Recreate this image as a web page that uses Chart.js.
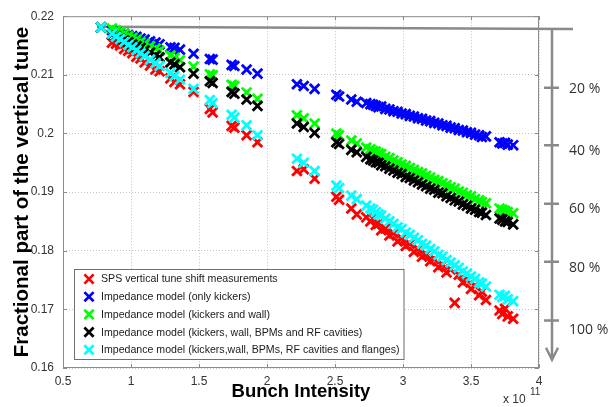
<!DOCTYPE html>
<html><head><meta charset="utf-8">
<script src="https://cdn.jsdelivr.net/npm/chart.js@4.4.1/dist/chart.umd.min.js"></script>
<style>html,body{margin:0;padding:0;background:#fff;overflow:hidden}</style>
</head><body>
<canvas id="c" width="611" height="407"></canvas>
<script>
// ---------- data ----------
const intensity = [0.78,
  0.86,0.89,0.92,0.95,0.98,1.01,1.04,1.07,1.10,1.14,1.18,1.21,
  1.29,1.32,1.36,
  1.46,1.58,1.60,1.74,1.76,1.85,1.93,
  2.22,2.27,2.35,
  2.51,2.53,2.62,2.66,2.73,2.76,2.78,2.80,2.82,2.84,
  2.87,2.90,2.93,2.96,2.99,3.02,3.05,3.08,3.11,3.14,
  3.17,3.20,3.23,3.26,3.29,3.32,3.35,3.38,3.41,3.44,
  3.47,3.50,3.53,3.56,3.58,3.61,
  3.71,3.73,3.75,3.77,3.81];
const measured = [null,
  0.2155,0.2153,0.2150,0.2144,0.2141,0.2137,0.2131,0.2128,0.2121,0.2116,0.2109,0.2106,
  0.2094,0.2088,0.2084,
  0.2071,0.2042,0.2036,0.2013,0.2010,0.1997,0.1985,
  0.1936,0.1939,0.1923,
  0.1892,0.1887,0.1872,0.1862,0.1857,0.1850,0.1855,0.1844,0.1846,0.1835,
  0.1838,0.1826,0.1830,0.1816,0.1821,0.1808,0.1812,0.1798,0.1803,0.1790,
  0.1794,0.1782,0.1786,0.1772,0.1776,0.1763,0.1768,0.1711,0.1759,0.1746,
  0.1750,0.1735,0.1740,0.1724,0.1730,0.1716,
  0.1698,0.1692,0.1701,0.1688,0.1684];
const kickersOnly = [0.2181,
  0.2176,0.2174,0.2172,0.2170,0.2168,0.2166,0.2165,0.2162,0.2160,0.2157,0.2155,0.2152,
  0.2147,0.2146,0.2143,
  0.2136,0.2127,0.2126,0.2117,0.2115,0.2109,0.2102,
  0.2084,0.2081,0.2076,
  0.2066,0.2063,0.2058,0.2054,0.2052,0.2050,0.2049,0.2047,0.2045,0.2046,
  0.2042,0.2041,0.2038,0.2037,0.2034,0.2033,0.2030,0.2029,0.2026,0.2025,
  0.2022,0.2021,0.2018,0.2017,0.2014,0.2013,0.2010,0.2009,0.2006,0.2005,
  0.2002,0.2001,0.1998,0.1997,0.1994,0.1995,
  0.1985,0.1983,0.1984,0.1981,0.1980];
const kickersWall = [0.2181,
  0.2179,0.2176,0.2173,0.2170,0.2166,0.2163,0.2160,0.2156,0.2153,0.2149,0.2145,0.2141,
  0.2133,0.2129,0.2125,
  0.2114,0.2101,0.2099,0.2083,0.2081,0.2070,0.2059,
  0.2031,0.2026,0.2017,
  0.2000,0.1997,0.1988,0.1983,0.1976,0.1973,0.1970,0.1969,0.1966,0.1965,
  0.1960,0.1958,0.1954,0.1951,0.1947,0.1945,0.1941,0.1938,0.1934,0.1932,
  0.1928,0.1925,0.1921,0.1919,0.1915,0.1912,0.1908,0.1906,0.1901,0.1899,
  0.1895,0.1893,0.1888,0.1886,0.1883,0.1881,
  0.1872,0.1870,0.1868,0.1866,0.1864];
const kickersWallBpmRf = [0.2181,
  0.2169,0.2166,0.2162,0.2159,0.2156,0.2152,0.2149,0.2146,0.2142,0.2138,0.2133,0.2130,
  0.2121,0.2118,0.2113,
  0.2102,0.2089,0.2086,0.2071,0.2068,0.2058,0.2047,
  0.2017,0.2011,0.2001,
  0.1985,0.1982,0.1972,0.1968,0.1960,0.1956,0.1954,0.1951,0.1950,0.1946,
  0.1944,0.1940,0.1937,0.1933,0.1931,0.1926,0.1924,0.1920,0.1917,0.1913,
  0.1910,0.1906,0.1904,0.1899,0.1898,0.1893,0.1890,0.1886,0.1884,0.1879,
  0.1877,0.1872,0.1870,0.1866,0.1865,0.1861,
  0.1855,0.1853,0.1850,0.1849,0.1845];
const fullModel = [0.2181,
  0.2170,0.2165,0.2161,0.2156,0.2151,0.2147,0.2142,0.2137,0.2132,0.2126,0.2120,0.2115,
  0.2103,0.2098,0.2092,
  0.2076,0.2057,0.2052,0.2032,0.2027,0.2014,0.1997,
  0.1957,0.1950,0.1936,
  0.1911,0.1907,0.1894,0.1888,0.1877,0.1872,0.1870,0.1866,0.1862,0.1860,
  0.1855,0.1850,0.1846,0.1840,0.1837,0.1831,0.1827,0.1822,0.1818,0.1812,
  0.1809,0.1803,0.1799,0.1793,0.1790,0.1784,0.1780,0.1775,0.1771,0.1765,
  0.1761,0.1756,0.1752,0.1746,0.1744,0.1739,
  0.1725,0.1721,0.1723,0.1717,0.1714];

const seriesLabels = [
  'SPS vertical tune shift measurements',
  'Impedance model (only kickers)',
  'Impedance model (kickers and wall)',
  'Impedance model (kickers, wall, BPMs and RF cavities)',
  'Impedance model (kickers,wall, BPMs, RF cavities and flanges)'
];
const seriesColors = ['#ff0000','#0000ff','#00ff00','#000000','#00ffff'];

const xTickValues = [0.5,1,1.5,2,2.5,3,3.5,4];
const xTickLabels = ['0.5','1','1.5','2','2.5','3','3.5','4'];
const yTickValues = [0.16,0.17,0.18,0.19,0.2,0.21,0.22];
const yTickLabels = ['0.16','0.17','0.18','0.19','0.2','0.21','0.22'];
const xAxisTitle = 'Bunch Intensity';
const yAxisTitle = 'Fractional part of the vertical tune';
const xExponentBase = 'x 10';
const xExponentPower = '11';

// right-hand annotation (percent of the tune shift), in tune units
const refLineStartIntensity = 0.75;
const refLineTunes = [0.2182, 0.2178];
const arrowTipTune = 0.1614;
const percentLabels = ['20 %','40 %','60 %','80 %','100 %'];
const percentTickTunes = [0.2078, 0.1980, 0.1880, 0.1781, 0.1681];
const percentLabelTunes = [0.2075, 0.1970, 0.1871, 0.1771, 0.1664];

// ---------- chart ----------
const FONT = '"Liberation Sans", Arial, Helvetica, sans-serif';
const series = [measured, kickersOnly, kickersWall, kickersWallBpmRf, fullModel];
const datasets = series.map((arr, k) => ({
  label: seriesLabels[k],
  data: intensity.map((x, i) => arr[i] == null ? null : ({x: x, y: arr[i]})).filter(p => p),
  showLine: false,
  pointStyle: 'crossRot',
  pointRadius: 6.8,
  pointBorderWidth: 2.8,
  borderColor: seriesColors[k],
  backgroundColor: seriesColors[k],
  order: series.length - k
}));

const deco = {
  id: 'deco',
  beforeDatasetsDraw(chart) {
    const {ctx, chartArea: a, scales: {x, y}} = chart;
    ctx.save();
    ctx.strokeStyle = '#8c8c8c';
    ctx.lineWidth = 1;
    ctx.strokeRect(a.left + 0.5, a.top + 0.5, a.right - a.left - 1, a.bottom - a.top - 1);
    const tl = 4;
    ctx.beginPath();
    xTickValues.forEach(v => {
      const px = Math.round(x.getPixelForValue(v)) + 0.5;
      ctx.moveTo(px, a.top); ctx.lineTo(px, a.top + tl);
      ctx.moveTo(px, a.bottom); ctx.lineTo(px, a.bottom - tl);
    });
    yTickValues.forEach(v => {
      const py = Math.round(y.getPixelForValue(v)) + 0.5;
      ctx.moveTo(a.left, py); ctx.lineTo(a.left + tl, py);
      ctx.moveTo(a.right, py); ctx.lineTo(a.right - tl, py);
    });
    ctx.stroke();
    // reference (zero-shift) line
    ctx.strokeStyle = '#8a8a8a';
    ctx.lineWidth = 2.5;
    ctx.beginPath();
    ctx.moveTo(x.getPixelForValue(refLineStartIntensity), y.getPixelForValue(refLineTunes[0]));
    ctx.lineTo(a.right + 34, y.getPixelForValue(refLineTunes[1]));
    ctx.stroke();
    ctx.restore();
  },
  afterDatasetsDraw(chart) {
    const {ctx, chartArea: a} = chart;
    ctx.save();
    ctx.font = '10.6px ' + FONT;
    const labels = chart.data.datasets.map(d => d.label);
    const maxW = Math.max(...labels.map(t => ctx.measureText(t).width));
    const left = a.left + 11, top = a.bottom - 99;
    const w = 27 + maxW + 4, h = 90;
    ctx.fillStyle = '#ffffff';
    ctx.fillRect(left, top, w, h);
    ctx.strokeStyle = '#707070';
    ctx.lineWidth = 1;
    ctx.strokeRect(left + 0.5, top + 0.5, w, h);
    const rowH = 17.7;
    labels.forEach((t, i) => {
      const cy = top + 10 + i * rowH;
      const cx = left + 15;
      const r = 4.6;
      ctx.strokeStyle = chart.data.datasets[i].borderColor;
      ctx.lineWidth = 2.7;
      ctx.beginPath();
      ctx.moveTo(cx - r, cy - r); ctx.lineTo(cx + r, cy + r);
      ctx.moveTo(cx + r, cy - r); ctx.lineTo(cx - r, cy + r);
      ctx.stroke();
      ctx.fillStyle = '#1a1a1a';
      ctx.textBaseline = 'middle';
      ctx.textAlign = 'left';
      ctx.fillText(t, left + 27, cy + 0.5);
    });
    ctx.restore();
  },
  afterDraw(chart) {
    const {ctx, chartArea: a, scales: {y}} = chart;
    ctx.save();
    // arrow
    const ax = a.right + 13;
    const y0 = y.getPixelForValue(refLineTunes[1]);
    const y1 = y.getPixelForValue(arrowTipTune);
    ctx.strokeStyle = '#8a8a8a';
    ctx.lineWidth = 2.5;
    ctx.beginPath();
    ctx.moveTo(ax, y0); ctx.lineTo(ax, y1);
    ctx.moveTo(ax - 6, y1 - 12); ctx.lineTo(ax, y1); ctx.lineTo(ax + 6, y1 - 12);
    percentTickTunes.forEach(t => {
      const py = y.getPixelForValue(t);
      ctx.moveTo(ax - 8, py); ctx.lineTo(ax + 7, py);
    });
    ctx.stroke();
    ctx.fillStyle = '#333333';
    ctx.font = '14px "Open Sans", Lato, sans-serif';
    ctx.textBaseline = 'middle';
    ctx.textAlign = 'left';
    percentLabels.forEach((t, i) => {
      ctx.fillText(t, a.right + 30, y.getPixelForValue(percentLabelTunes[i]));
    });
    // exponent
    ctx.fillStyle = '#333333';
    ctx.font = '12px ' + FONT;
    ctx.fillText(xExponentBase, a.right - 36, a.bottom + 32);
    ctx.font = '10px ' + FONT;
    ctx.fillText(xExponentPower, a.right - 9, a.bottom + 24);
    ctx.restore();
  }
};

new Chart(document.getElementById('c'), {
  type: 'scatter',
  data: {datasets: datasets},
  options: {
    responsive: false,
    animation: false,
    events: [],
    layout: {padding: {left: 0, right: 72, top: 14, bottom: 0}},
    plugins: {legend: {display: false}, tooltip: {enabled: false}},
    scales: {
      x: {
        type: 'linear', min: 0.5, max: 4,
        afterBuildTicks: s => { s.ticks = xTickValues.map(v => ({value: v})); },
        afterFit: s => { s.height = 39; },
        ticks: {
          callback: (v, i) => xTickLabels[i],
          font: {family: FONT, size: 12}, color: '#333333',
          padding: 6, maxRotation: 0, autoSkip: false
        },
        grid: {color: '#c4c4c4', lineWidth: 1, drawTicks: false},
        border: {display: false, dash: [1, 2]},
        title: {
          display: true, text: xAxisTitle, color: '#000',
          font: {family: FONT, size: 18.5, weight: 'bold', lineHeight: 1},
          padding: {top: 0, bottom: 6}
        }
      },
      y: {
        type: 'linear', min: 0.16, max: 0.22,
        afterBuildTicks: s => { s.ticks = yTickValues.map(v => ({value: v})); },
        afterFit: s => { s.width = 63; },
        ticks: {
          callback: (v, i) => yTickLabels[i],
          font: {family: FONT, size: 12}, color: '#333333',
          padding: 9, autoSkip: false
        },
        grid: {color: '#c4c4c4', lineWidth: 1, drawTicks: false},
        border: {display: false, dash: [1, 2]},
        title: {
          display: true, text: yAxisTitle, color: '#000',
          font: {family: FONT, size: 20.5, weight: 'bold', lineHeight: 1},
          padding: {top: 12, bottom: 0}
        }
      }
    }
  },
  plugins: [deco]
});
</script>
</body></html>
